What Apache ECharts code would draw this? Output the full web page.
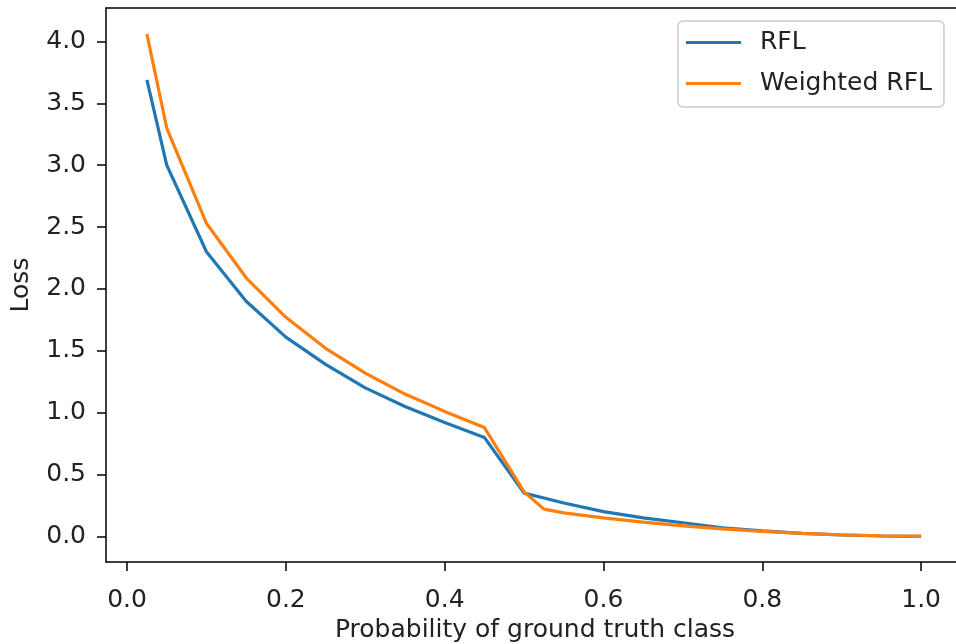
<!DOCTYPE html>
<html>
<head>
<meta charset="utf-8">
<script src="https://cdn.jsdelivr.net/npm/echarts@6/dist/echarts.min.js"></script>
<style>
  html, body { margin: 0; padding: 0; background: #fff; }
  #chart { width: 956px; height: 644px; }
</style>
</head>
<body>
<div id="chart"></div>
<script>
// probability of the ground truth class
const probs = [0.025, 0.05, 0.1, 0.15, 0.2, 0.25, 0.3, 0.35, 0.4, 0.45, 0.5, 0.525, 0.55,
  0.6, 0.65, 0.7, 0.75, 0.8, 0.85, 0.9, 0.95, 1.0];
const rfl = [3.69, 3.00, 2.30, 1.90, 1.61, 1.39, 1.20, 1.05, 0.92, 0.80, 0.35, 0.31, 0.27,
  0.20, 0.15, 0.11, 0.07, 0.045, 0.024, 0.011, 0.003, 0.0];
const weightedRfl = [4.06, 3.30, 2.53, 2.09, 1.77, 1.52, 1.32, 1.15, 1.01, 0.88, 0.36, 0.22, 0.19,
  0.15, 0.115, 0.085, 0.06, 0.04, 0.025, 0.013, 0.005, 0.0];
const xTicks = [0, 0.2, 0.4, 0.6, 0.8, 1.0];
const yTicks = [0, 0.5, 1.0, 1.5, 2.0, 2.5, 3.0, 3.5, 4.0];

const font = 'DejaVu Sans';
const pairs = (ys) => probs.map((p, i) => [p, ys[i]]);
const axisLine = { show: true, onZero: false, lineStyle: { color: '#000', width: 1.5 } };

let chart = echarts.init(document.getElementById('chart'));
chart.setOption({
  animation: false,
  textStyle: { fontFamily: font },
  grid: { left: 106, top: 8, width: 858, height: 554, outerBoundsMode: 'none', containLabel: false },
  xAxis: [
    {
      type: 'value',
      min: -0.0265, max: 1.054,
      name: 'Probability of ground truth class',
      nameLocation: 'middle',
      nameGap: 55,
      nameTextStyle: { fontSize: 25, color: '#222', fontFamily: font },
      axisLine: axisLine,
      axisTick: { show: true, length: 9, customValues: xTicks, lineStyle: { color: '#000', width: 1.5 } },
      axisLabel: {
        customValues: xTicks, margin: 26, fontSize: 25, color: '#222', fontFamily: font,
        formatter: (v) => v.toFixed(1)
      },
      splitLine: { show: false }
    },
    {
      // top frame line only
      type: 'value', position: 'top',
      min: -0.0265, max: 1.054,
      axisLine: axisLine,
      axisTick: { show: false },
      axisLabel: { show: false },
      splitLine: { show: false }
    }
  ],
  yAxis: {
    type: 'value',
    min: -0.207, max: 4.27,
    name: 'Loss',
    nameLocation: 'middle',
    nameGap: 72,
    nameTextStyle: { fontSize: 25, color: '#222', fontFamily: font },
    axisLine: axisLine,
    axisTick: { show: true, length: 9, customValues: yTicks, lineStyle: { color: '#000', width: 1.5 } },
    axisLabel: {
      customValues: yTicks, margin: 20, fontSize: 25, color: '#222', fontFamily: font,
      formatter: (v) => v.toFixed(1)
    },
    splitLine: { show: false }
  },
  legend: {
    left: 678, top: 21,
    orient: 'vertical',
    align: 'left',
    padding: [9, 12, 11, 8],
    icon: 'rect',
    itemWidth: 55, itemHeight: 3.2, itemGap: 16,
    backgroundColor: 'rgba(255,255,255,0.8)',
    borderColor: '#cccccc', borderWidth: 1.5, borderRadius: 5,
    textStyle: { fontSize: 25, color: '#222', fontFamily: font, padding: [0, 0, 0, 14] },
    data: ['RFL', 'Weighted RFL']
  },
  series: [
    {
      name: 'RFL', type: 'line', data: pairs(rfl), symbol: 'none',
      color: '#1f77b4', lineStyle: { width: 3.2, color: '#1f77b4' }
    },
    {
      name: 'Weighted RFL', type: 'line', data: pairs(weightedRfl), symbol: 'none',
      color: '#ff7f0e', lineStyle: { width: 3.2, color: '#ff7f0e' }
    }
  ]
});
</script>
</body>
</html>
